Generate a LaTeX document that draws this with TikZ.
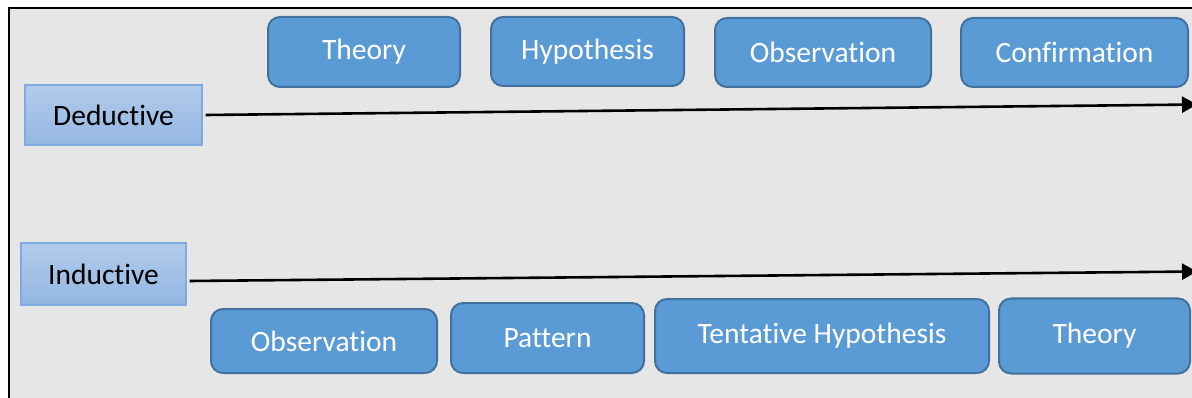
\documentclass[tikz,border=0pt]{standalone}
\usepackage{fontspec}
\setmainfont{Carlito}[Ligatures={NoCommon}]
\usetikzlibrary{arrows.meta}
\definecolor{panelgray}{HTML}{E6E6E6}
\definecolor{stepfill}{HTML}{5B9BD5}
\definecolor{stepedge}{HTML}{41719C}
\definecolor{labtop}{HTML}{B2CCEB}
\definecolor{labbot}{HTML}{93B6E2}
\definecolor{labedge}{HTML}{7DAADF}
\tikzset{
  stepbox/.style={draw=stepedge, line width=2pt, fill=stepfill, rounded corners=12pt,
    text=white, inner sep=0pt, align=center,
    font=\fontsize{29.5}{31}\selectfont},
  labelbox/.style={draw=labedge, line width=1.2pt, top color=labtop, bottom color=labbot,
    text=black, inner sep=0pt, align=center,
    font=\fontsize{29.5}{31}\selectfont},
  flow/.style={line width=2.6pt, -{Triangle[length=15pt,width=16pt]}}
}
\begin{document}
\begin{tikzpicture}[x=1pt,y=-1pt]
\useasboundingbox (0,0) rectangle (1192,398);
\fill[white] (0,0) rectangle (1192,398);
\begin{scope}
\clip (0,0) rectangle (1192,398);
\draw[line width=2.6pt, fill=panelgray] (9,8) rectangle (1230,430);
\end{scope}

% row labels
\node[labelbox, minimum width=177pt, minimum height=60pt] (ded) at (113.5,115) {Deductive};
\node[labelbox, minimum width=165pt, minimum height=62pt] (ind) at (103.5,274) {Inductive};

% deductive steps
\node[stepbox, minimum width=192pt, minimum height=70pt] (d1) at (364,52) {Theory};
\node[stepbox, minimum width=193pt, minimum height=69pt] (d2) at (587.5,51.5) {Hypothesis};
\node[stepbox, minimum width=216pt, minimum height=69pt] (d3) at (823,52.5) {Observation};
\node[stepbox, minimum width=227pt, minimum height=69pt] (d4) at (1074.5,52.5) {Confirmation};

% inductive steps
\node[stepbox, minimum width=226pt, minimum height=64pt] (i1) at (324,341) {Observation};
\node[stepbox, minimum width=193pt, minimum height=70pt] (i2) at (547.5,338) {Pattern};
\node[stepbox, minimum width=334pt, minimum height=74pt] (i3) at (822,336) {Tentative Hypothesis};
\node[stepbox, minimum width=191pt, minimum height=75pt] (i4) at (1094.5,336) {Theory};

% direction arrows (tips run just past the right edge)
\coordinate (dend) at (1197,104.5);
\coordinate (iend) at (1197,271.5);
\begin{scope}
\clip (0,0) rectangle (1192,398);
\draw[flow] ([xshift=3pt]ded.east) -- (dend);
\draw[flow] ([xshift=3pt,yshift=-7pt]ind.east) -- (iend);
\end{scope}
\end{tikzpicture}
\end{document}
